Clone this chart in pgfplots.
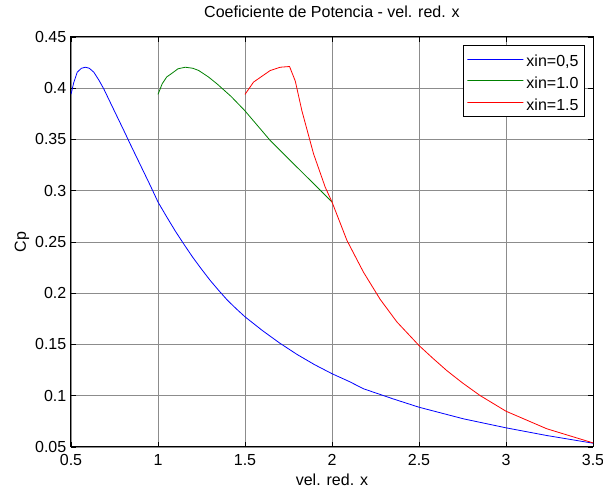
\documentclass[border=0pt]{standalone}
\usepackage{fontspec}
\setmainfont{Liberation Sans}
\usepackage{pgfplots}
\pgfplotsset{compat=1.18}
\newcommand{\lstrut}{\rule[-1.8pt]{0pt}{15pt}}
\begin{document}
\begin{tikzpicture}
\begin{axis}[
  scale only axis,
  width=391.5pt, height=307.5pt,
  xmin=0.5, xmax=3.5, ymin=0.05, ymax=0.45,
  xtick={0.5,1,1.5,2,2.5,3,3.5},
  ytick={0.05,0.1,0.15,0.2,0.25,0.3,0.35,0.4,0.45},
  tick align=inside,
  major tick length=3.75pt,
  grid=major,
  grid style={black!45, line width=0.5pt},
  axis line style={line width=0.75pt},
  tick style={black, line width=0.6pt},
  font=\fontsize{12pt}{14pt}\selectfont,
  /pgf/number format/assume math mode=true,
  /pgf/number format/fixed,
  scaled ticks=false,
  every axis title shift=0pt,
  title={Coeficiente de Potencia - vel. red. x},
  title style={at={(axis description cs:0.5,1.061)}, anchor=center},
  xlabel={vel. red. x},
  xlabel style={at={(axis description cs:0.5,-0.0805)}, anchor=center},
  ylabel={Cp},
  ylabel style={at={(axis description cs:-0.0939,0.5)}, anchor=center},
  xticklabel style={yshift=-2pt},
  legend style={at={(axis description cs:1,1)}, anchor=north east,
    xshift=-6pt, yshift=-6pt, draw=black, line width=0.75pt,
    inner xsep=2.5pt, inner ysep=0.9pt, row sep=-2.5pt,
    font=\fontsize{12pt}{14pt}\selectfont},
  legend cell align=left,
  legend image code/.code={\useasboundingbox (-3pt,0pt) rectangle (39.05pt,0pt);
    \draw[#1] (0pt,0pt) -- (36.3pt,0pt);},
]
\addplot[blue, line width=0.6pt] coordinates {
(0.500,0.394) (0.515,0.405) (0.536,0.4157) (0.560,0.4195) (0.583,0.4205)
(0.605,0.4195) (0.631,0.4157) (0.660,0.408) (0.688,0.3995) (0.746,0.379)
(0.803,0.359) (0.842,0.345) (0.899,0.325) (0.956,0.305) (1.000,0.289)
(1.050,0.2745) (1.100,0.2605) (1.150,0.2475) (1.200,0.235) (1.250,0.2235)
(1.300,0.2125) (1.350,0.2025) (1.400,0.193) (1.450,0.1848) (1.500,0.177)
(1.600,0.1636) (1.700,0.1513) (1.800,0.1402) (1.900,0.1303) (2.000,0.1215)
(2.100,0.1138) (2.181,0.1068) (2.350,0.0970) (2.500,0.0888) (2.755,0.0775)
(3.000,0.0687) (3.234,0.0612) (3.500,0.0537)
};
\addlegendentry{\lstrut xin=0,5}
\addplot[color={rgb,255:red,0;green,128;blue,0}, line width=0.6pt] coordinates {
(1.000,0.394) (1.024,0.4043) (1.050,0.411) (1.081,0.4147) (1.115,0.419)
(1.157,0.4205) (1.200,0.4195) (1.234,0.4173) (1.290,0.411) (1.339,0.4043)
(1.420,0.392) (1.498,0.3783) (1.645,0.349) (1.779,0.3263) (1.900,0.306)
(2.000,0.289)
};
\addlegendentry{\lstrut xin=1.0}
\addplot[red, line width=0.6pt] coordinates {
(1.500,0.394) (1.549,0.406) (1.600,0.412) (1.645,0.4173) (1.703,0.4205)
(1.756,0.4212) (1.789,0.407) (1.827,0.378) (1.894,0.336) (1.961,0.3035)
(2.000,0.289) (2.086,0.2515) (2.181,0.2205) (2.277,0.194) (2.373,0.172)
(2.500,0.149) (2.580,0.1365) (2.660,0.1245) (2.750,0.1125) (2.851,0.1002)
(3.000,0.0849) (3.234,0.0678) (3.500,0.054)
};
\addlegendentry{\lstrut xin=1.5}
\end{axis}
\pgfresetboundingbox
\path[use as bounding box] ([shift={(-53.25pt,-31.5pt)}]current axis.south west) rectangle ([shift={(7.5pt,27.75pt)}]current axis.north east);
\end{tikzpicture}
\end{document}
